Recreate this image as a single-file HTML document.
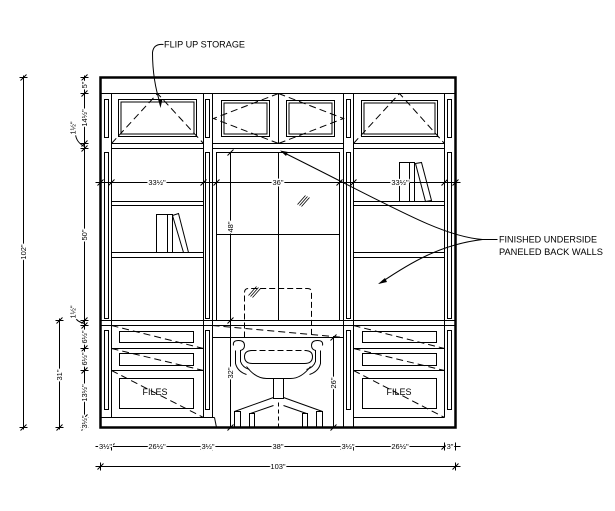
<!DOCTYPE html>
<html><head><meta charset="utf-8"><style>
html,body{margin:0;padding:0;background:#fff;}
svg{display:block;}
text{font-family:"Liberation Sans",sans-serif;fill:#000;}
.d{font-size:7.5px;stroke:#fff;stroke-width:3px;paint-order:stroke;stroke-linejoin:round;}
</style></head><body>
<svg width="615" height="511" viewBox="0 0 615 511" xmlns="http://www.w3.org/2000/svg">
<rect width="615" height="511" fill="#fff"/>
<g transform="translate(0.5,0.5)" fill="none" stroke="#000" stroke-width="1">
<!-- outer frame -->
<rect x="100" y="77" width="355" height="350" stroke-width="2.5"/>
<line x1="100" y1="93" x2="455" y2="93"/>
<!-- verticals -->
<line x1="111" y1="93" x2="111" y2="417"/>
<line x1="203" y1="93" x2="203" y2="417"/>
<line x1="212" y1="93" x2="212" y2="417"/>
<line x1="343" y1="93" x2="343" y2="427"/>
<line x1="353" y1="93" x2="353" y2="427"/>
<line x1="444" y1="93" x2="444" y2="417"/>
<!-- stile panels -->
<rect x="104" y="99" width="4" height="38"/><rect x="104" y="152" width="4" height="166"/><rect x="104" y="330" width="4" height="79"/>
<rect x="205" y="99" width="4" height="38"/><rect x="205" y="152" width="4" height="166"/><rect x="205" y="330" width="4" height="79"/>
<rect x="346" y="99" width="4" height="38"/><rect x="346" y="152" width="4" height="166"/><rect x="346" y="330" width="4" height="79"/>
<rect x="447" y="99" width="4" height="38"/><rect x="447" y="152" width="4" height="166"/><rect x="447" y="330" width="4" height="79"/>
<!-- rails -->
<line x1="111" y1="143" x2="203" y2="143"/><line x1="111" y1="148" x2="203" y2="148"/>
<line x1="212" y1="143" x2="343" y2="143"/><line x1="212" y1="148" x2="343" y2="148"/>
<line x1="353" y1="143" x2="444" y2="143"/><line x1="353" y1="148" x2="444" y2="148"/>
<line x1="100" y1="320" x2="455" y2="320"/><line x1="100" y1="325" x2="455" y2="325"/>
<!-- flip-up panels -->
<rect x="118" y="99" width="78" height="37"/><rect x="120.5" y="101.5" width="73" height="32"/>
<rect x="361" y="100" width="76" height="36"/><rect x="363.5" y="102.5" width="71" height="31"/>
<rect x="221" y="100" width="48" height="36"/><rect x="223.5" y="102.5" width="43" height="31"/>
<rect x="286" y="100" width="48" height="36"/><rect x="288.5" y="102.5" width="43" height="31"/>
<line x1="278" y1="93" x2="278" y2="143"/>
<g stroke-dasharray="7,4">
<polyline points="111,143 157,93 203,143"/>
<polyline points="353,143 399,93 444,143"/>
<polyline points="278,93 213,118 278,143"/>
<polyline points="278,93 343,118 278,143"/>
</g>
<!-- center glass door -->
<rect x="216" y="152" width="123" height="168"/>
<line x1="278" y1="152" x2="278" y2="320"/>
<line x1="216" y1="234" x2="339" y2="234"/>
<path d="M297,204 L305,195 M299,205 L307,196 M301,206 L309,197" stroke-width="0.8"/>
<!-- shelves -->
<line x1="111" y1="201" x2="203" y2="201"/><line x1="111" y1="205" x2="203" y2="205"/>
<line x1="111" y1="252" x2="203" y2="252"/><line x1="111" y1="257" x2="203" y2="257"/>
<line x1="353" y1="201" x2="444" y2="201"/><line x1="353" y1="205" x2="444" y2="205"/>
<line x1="353" y1="252" x2="444" y2="252"/><line x1="353" y1="257" x2="444" y2="257"/>
<!-- books -->
<rect x="156" y="214" width="11" height="38"/><rect x="167" y="214" width="5" height="38"/>
<polygon points="172,215 178,213 188,252 183,252"/>
<rect x="399" y="162" width="10" height="39"/><rect x="409" y="162" width="5" height="39"/>
<polygon points="415,163 421,162 431,200 425,201"/>
<!-- drawers -->
<line x1="111" y1="348" x2="203" y2="348"/><line x1="111" y1="370" x2="203" y2="370"/>
<line x1="353" y1="348" x2="444" y2="348"/><line x1="353" y1="370" x2="444" y2="370"/>
<line x1="100" y1="417" x2="214" y2="417"/><line x1="214" y1="417" x2="216" y2="427"/>
<line x1="353" y1="417" x2="444" y2="417"/>
<rect x="119" y="331" width="74" height="11"/><rect x="119" y="353" width="74" height="12"/><rect x="119" y="378" width="74" height="30"/>
<rect x="362" y="331" width="74" height="11"/><rect x="362" y="353" width="74" height="12"/><rect x="362" y="378" width="74" height="30"/>
<g stroke-dasharray="7,4">
<line x1="111" y1="325" x2="203" y2="348"/><line x1="111" y1="348" x2="203" y2="370"/><line x1="111" y1="370" x2="203" y2="417"/>
<line x1="353" y1="325" x2="444" y2="348"/><line x1="353" y1="348" x2="444" y2="370"/><line x1="353" y1="370" x2="444" y2="417"/>
<line x1="212" y1="325" x2="343" y2="337"/>
</g>
<line x1="212" y1="337" x2="343" y2="337"/>
<!-- chair -->
<path d="M244,337 L244,292 Q244,288 248,288 L307,288 Q311,288 311,292 L311,337" stroke-dasharray="6,3"/>
<path d="M248,295 L256,286 M250,296 L258,287 M252,297 L260,288" stroke-width="0.8"/>
<path d="M233,345 Q232,340 238,340 Q244,340 244,345 Q244,349 240,350 L240,361 Q242,367 249,369"/>
<path d="M235,350 L235,363 Q237,371 246,374"/>
<path d="M322,345 Q323,340 317,340 Q311,340 311,345 Q311,349 315,350 L315,361 Q313,367 306,369"/>
<path d="M320,350 L320,363 Q318,371 309,374"/>
<path d="M252,350 L304,350 Q312,350 312,356 Q312,363 304,363 L252,363 Q244,363 244,356 Q244,350 252,350 Z"/>
<line x1="250" y1="350" x2="306" y2="350" stroke="#fff" stroke-width="1.5"/>
<line x1="250" y1="350" x2="306" y2="350" stroke-dasharray="6,3"/>
<path d="M246,366 Q255,378 266,378 L290,378 Q301,378 310,366"/>
<rect x="273" y="378" width="10" height="20"/>
<path d="M273,397 L234,411 M283,397 L322,411 M273,405 L250,413 M283,405 L306,413"/>
<rect x="234" y="411" width="6" height="16"/><rect x="249" y="413" width="5" height="14"/>
<rect x="302" y="413" width="5" height="14"/><rect x="316" y="411" width="6" height="16"/>
<line x1="278" y1="402" x2="278" y2="427" stroke-dasharray="4,3"/>

<!-- dimension lines -->
<line x1="23" y1="75" x2="23" y2="429"/>
<line x1="84" y1="75" x2="84" y2="429"/>
<line x1="59" y1="318" x2="59" y2="429"/>
<line x1="230" y1="152" x2="230" y2="427"/>
<line x1="333" y1="337" x2="333" y2="427"/>
<line x1="95" y1="182" x2="460" y2="182"/>
<line x1="95" y1="446" x2="460" y2="446"/>
<line x1="95" y1="466" x2="460" y2="466"/>
<!-- ticks vertical -->
<path d="M19,77 H27 M20,80 L26,74 M19,427 H27 M20,430 L26,424
M55,320 H63 M56,323 L62,317 M55,427 H63 M56,430 L62,424
M80,77 H88 M81,80 L87,74 M80,93 H88 M81,96 L87,90 M80,143 H88 M81,146 L87,140 M80,148 H88 M81,151 L87,145
M80,320 H88 M81,323 L87,317 M80,325 H88 M81,328 L87,322 M80,348 H88 M81,351 L87,345 M80,370 H88 M81,373 L87,367
M80,417 H88 M81,420 L87,414 M80,427 H88 M81,430 L87,424
M226,152 H234 M227,155 L233,149 M226,320 H234 M227,323 L233,317 M226,427 H234 M227,430 L233,424
M329,337 H337 M330,340 L336,334 M329,427 H337 M330,430 L336,424"/>
<!-- ticks horizontal -->
<path d="M100,178 V186 M111,178 V186 M203,178 V186 M216,178 V186 M339,178 V186 M353,178 V186 M444,178 V186 M455,178 V186
M97,185 L103,179 M108,185 L114,179 M200,185 L206,179 M213,185 L219,179 M336,185 L342,179 M350,185 L356,179 M441,185 L447,179 M452,185 L458,179
M100,442 V450 M111,442 V450 M203,442 V450 M212,442 V450 M343,442 V450 M353,442 V450 M444,442 V450 M455,442 V450
M108,449 L114,443 M200,449 L206,443 M340,449 L346,443 M441,449 L447,443
M100,462 V470 M455,462 V470 M97,469 L103,463 M452,469 L458,463"/>
<!-- leaders for 1 1/2 -->
<path d="M75,134 Q76,142 84,146"/>
<path d="M75,317 Q76,321 84,323"/>
<!-- flip up leader -->
<path d="M163,44 Q153,43 152,52 Q152,80 160,104"/>
<!-- finished underside leaders -->
<path d="M497,239 L482,239 C440,236 390,205 281,151"/>
<path d="M482,239 C440,244 410,262 379,283"/>
</g>
<g fill="#000">
<polygon points="160.5,108 158,99 162.5,99"/>
<polygon points="280,150.5 288,152 286,156"/>
<polygon points="378,284 385,278 387,282"/>
</g>
<!-- texts -->
<text x="164" y="47.5" font-size="9" textLength="81" lengthAdjust="spacingAndGlyphs">FLIP UP STORAGE</text>
<text x="499" y="242.5" font-size="9" textLength="98" lengthAdjust="spacingAndGlyphs">FINISHED UNDERSIDE</text>
<text x="499" y="255" font-size="9" textLength="104" lengthAdjust="spacingAndGlyphs">PANELED BACK WALLS</text>
<text x="155" y="395" font-size="9" text-anchor="middle">FILES</text>
<text x="399" y="395" font-size="9" text-anchor="middle">FILES</text>

<g text-anchor="middle" dominant-baseline="central">
<text class="d" transform="translate(23.5,252) rotate(-90)">102"</text>
<text class="d" transform="translate(59.5,375) rotate(-90)">31"</text>
<text class="d" transform="translate(84.5,85) rotate(-90)">5"</text>
<text class="d" transform="translate(84.5,118) rotate(-90)">14½"</text>
<text class="d" transform="translate(73,128) rotate(-90)">1½"</text>
<text class="d" transform="translate(84.5,235) rotate(-90)">50"</text>
<text class="d" transform="translate(73,312) rotate(-90)">1½"</text>
<text class="d" transform="translate(84.5,337) rotate(-90)">6½"</text>
<text class="d" transform="translate(84.5,359) rotate(-90)">6½"</text>
<text class="d" transform="translate(84.5,393) rotate(-90)">13½"</text>
<text class="d" transform="translate(84.5,422) rotate(-90)">3½"</text>
<text class="d" transform="translate(230.5,227) rotate(-90)">48"</text>
<text class="d" transform="translate(230.5,373) rotate(-90)">32"</text>
<text class="d" transform="translate(333.5,383) rotate(-90)">26"</text>
<text class="d" x="157" y="182.5">33½"</text>
<text class="d" x="278" y="182.5">36"</text>
<text class="d" x="400" y="182.5">33½"</text>
<text class="d" x="105.5" y="446.5">3½"</text>
<text class="d" x="157" y="446.5">26½"</text>
<text class="d" x="208" y="446.5">3½"</text>
<text class="d" x="278" y="446.5">38"</text>
<text class="d" x="348" y="446.5">3½"</text>
<text class="d" x="400" y="446.5">26½"</text>
<text class="d" x="450" y="446.5">3"</text>
<text class="d" x="278" y="466.5">103"</text>
</g>
</svg>
</body></html>
